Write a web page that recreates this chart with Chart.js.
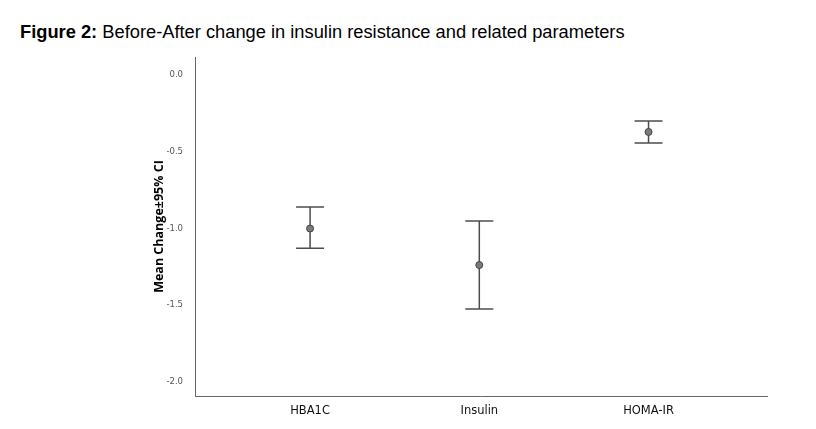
<!DOCTYPE html>
<html>
<head>
<meta charset="utf-8">
<script src="https://cdn.jsdelivr.net/npm/chart.js@4/dist/chart.umd.min.js"></script>
<style>
  html, body { margin: 0; padding: 0; background: #fff; }
  #wrap { position: relative; width: 816px; height: 429px; }
  #title { position: absolute; left: 20px; top: 21px; font-family: "Liberation Sans", Arial, sans-serif; font-size: 18.3px; color: #000; white-space: nowrap; }
  canvas { position: absolute; left: 0; top: 0; }
</style>
</head>
<body>
<div id="wrap">
  <div id="title"><b>Figure 2:</b> Before-After change in insulin resistance and related parameters</div>
  <canvas id="chart" width="816" height="429"></canvas>
</div>
<script>
// categories and values
var categories = ['HBA1C', 'Insulin', 'HOMA-IR']
var meanChange = [-1.0, -1.238, -0.371]
var ciLower = [-1.128, -1.524, -0.443]
var ciUpper = [-0.860, -0.951, -0.300]
var yTicks = [0.0, -0.5, -1.0, -1.5, -2.0]

var points = []
for (var i = 0; i < categories.length; i++) {
	points.push({x: i + 1, y: meanChange[i]})
}

// draws the CI whiskers with the chart's own scales
var errorBars = {
	id: 'errorBars',
	beforeDatasetsDraw: function(chart) {
		var ctx = chart.ctx
		var xs = chart.scales.x
		var ys = chart.scales.y
		ctx.save()
		ctx.strokeStyle = '#4d4d4d'
		ctx.lineWidth = 1.5
		for (var i = 0; i < categories.length; i++) {
			var px = xs.getPixelForValue(i + 1)
			var top = ys.getPixelForValue(ciUpper[i])
			var bot = ys.getPixelForValue(ciLower[i])
			ctx.beginPath()
			ctx.moveTo(px, top); ctx.lineTo(px, bot)
			ctx.moveTo(px - 14, top); ctx.lineTo(px + 14, top)
			ctx.moveTo(px - 14, bot); ctx.lineTo(px + 14, bot)
			ctx.stroke()
		}
		ctx.restore()
	}
}

var ctx = document.getElementById('chart').getContext('2d')
var chart = new Chart(ctx, {
	type: 'scatter',
	data: {
		datasets: [{
			label: 'Mean change',
			data: points,
			pointRadius: 3.5,
			pointBackgroundColor: '#7a7a7a',
			pointBorderColor: '#444',
			pointBorderWidth: 1
		}]
	},
	options: {
		responsive: false,
		animation: false,
		layout: { padding: { left: 152, top: 57, right: 49, bottom: 0 } },
		plugins: {
			legend: { display: false },
			tooltip: { enabled: false }
		},
		scales: {
			x: {
				type: 'linear',
				min: 0.32,
				max: 3.7,
				afterBuildTicks: function(s) { s.ticks = categories.map(function(c, i) { return {value: i + 1} }) },
				afterFit: function(s) { s.height = 33 },
				grid: { display: false },
				border: { display: true, color: '#666', width: 1 },
				ticks: {
					padding: 0,
					color: '#111',
					font: { family: 'DejaVu Sans', size: 11.5 },
					callback: function(v) { return categories[v - 1] }
				}
			},
			y: {
				min: -2.091,
				max: 0.117,
				afterBuildTicks: function(s) { s.ticks = yTicks.map(function(v) { return {value: v} }) },
				afterFit: function(s) { s.width = 43 },
				grid: { display: false },
				border: { display: true, color: '#666', width: 1 },
				title: {
					display: true,
					text: 'Mean Change±95% CI',
					color: '#000',
					font: { family: 'Open Sans', size: 12.5, weight: 'bold' },
					padding: { top: 0, bottom: 0 }
				},
				ticks: {
					padding: 4,
					color: '#555',
					font: { family: 'DejaVu Sans', size: 8.5 },
					callback: function(v) { return v.toFixed(1) }
				}
			}
		}
	},
	plugins: [errorBars]
})
</script>
</body>
</html>
